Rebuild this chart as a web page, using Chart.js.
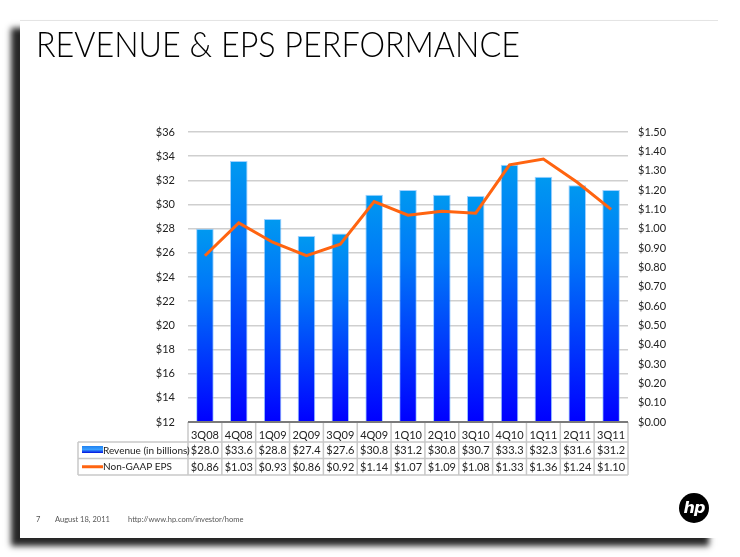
<!DOCTYPE html>
<html><head><meta charset="utf-8">
<script src="https://cdn.jsdelivr.net/npm/chart.js@4.4.1/dist/chart.umd.min.js"></script>
<style>
html,body{margin:0;padding:0;background:#fff;width:740px;height:557px;overflow:hidden;}
#slide{position:absolute;left:20px;top:20px;width:698px;height:517px;background:#fff;box-shadow:-9px 8px 6px rgba(0,0,0,0.85);border-top:1px solid #e4e4e4;}
#chartWrap{position:absolute;left:0;top:0;width:740px;height:557px;}
#title{position:absolute;left:36px;top:26px;font-family:Lato;font-weight:300;font-size:35px;line-height:35px;color:#000;white-space:nowrap;transform-origin:0 0;display:inline-block;}
.foot{position:absolute;top:515px;font-family:Lato;font-size:7.5px;color:#555;white-space:nowrap;}
#logo{position:absolute;left:679px;top:493px;width:30px;height:30px;border-radius:50%;background:#000;color:#fff;font-family:'DejaVu Sans';font-style:italic;font-weight:bold;font-size:16px;line-height:29px;text-align:center;letter-spacing:-1px;}
</style></head>
<body>
<div id="slide"></div>
<div id="chartWrap"><canvas id="c" width="740" height="557"></canvas></div>
<div id="title">REVENUE &amp; EPS PERFORMANCE</div>
<div class="foot" style="left:36px">7</div>
<div class="foot" style="left:55px">August 18, 2011</div>
<div class="foot" style="left:128px">http://www.hp.com/investor/home</div>
<div id="logo">hp</div>
<script>
const categories = ['3Q08','4Q08','1Q09','2Q09','3Q09','4Q09','1Q10','2Q10','3Q10','4Q10','1Q11','2Q11','3Q11'];
const revenue = [28.0,33.6,28.8,27.4,27.6,30.8,31.2,30.8,30.7,33.3,32.3,31.6,31.2];
const eps = [0.86,1.03,0.93,0.86,0.92,1.14,1.07,1.09,1.08,1.33,1.36,1.24,1.10];
const seriesNames = ['Revenue (in billions)','Non-GAAP EPS'];
const revenueAxis = [12,36,2];
const epsAxis = [0,1.5,0.1];

// fit title width
(function(){
  const t=document.getElementById('title');
  const w=t.getBoundingClientRect().width;
  t.style.transform='scaleX('+(484/w)+')';
})();

const FONT='Lato';
const TXT='#222';

function barGradient(ctx){
  const chart=ctx.chart, area=chart.chartArea;
  if(!area || ctx.raw===undefined) return '#0070f8';
  const y=chart.scales.y.getPixelForValue(ctx.raw);
  const g=chart.ctx.createLinearGradient(0,y,0,area.bottom);
  g.addColorStop(0,'#0099f0');
  g.addColorStop(0.3,'#0078f8');
  g.addColorStop(1,'#0000ff');
  return g;
}

const tablePlugin={
  id:'dataTable',
  afterDraw(chart){
    const c=chart.ctx, area=chart.chartArea, xs=chart.scales.x;
    const n=categories.length;
    const centers=categories.map((_,i)=>xs.getPixelForValue(i));
    const half=(centers[1]-centers[0])/2;
    const top=area.bottom, r1=top+20, r2=r1+16.5, r3=r2+16.5;
    const legL=78;
    function ln(x1,y1,x2,y2){c.beginPath();c.moveTo(x1,y1);c.lineTo(x2,y2);c.stroke();}
    c.save();
    c.strokeStyle='#c8c8c8'; c.lineWidth=1.5;
    ln(legL,r1,area.right,r1); ln(legL,r2,area.right,r2); ln(legL,r3,area.right,r3);
    ln(legL,r1,legL,r3);
    for(let i=0;i<=n;i++){const xx=(i<n?centers[i]-half:centers[n-1]+half); ln(xx,top,xx,r3);}
    c.strokeStyle='#7a7a7a'; c.lineWidth=2; ln(area.left,top,area.right,top);
    c.fillStyle=TXT; c.font='11px '+FONT; c.textAlign='center'; c.textBaseline='middle';
    for(let i=0;i<n;i++){
      c.fillText('$'+revenue[i].toFixed(1),centers[i],(r1+r2)/2+0.5);
      c.fillText('$'+eps[i].toFixed(2),centers[i],(r2+r3)/2+0.5);
    }
    // legend
    const sg=c.createLinearGradient(0,r1+4,0,r1+11);
    sg.addColorStop(0,'#2080f0'); sg.addColorStop(0.5,'#3aa0ff'); sg.addColorStop(1,'#0010e0');
    c.fillStyle=sg; c.fillRect(82,r1+4,21,7);
    c.strokeStyle='#ff6410'; c.lineWidth=3; ln(82,(r2+r3)/2,103,(r2+r3)/2);
    c.fillStyle=TXT; c.textAlign='left'; c.font='10px '+FONT;
    c.fillText(seriesNames[0],103,(r1+r2)/2+0.5);
    c.fillText(seriesNames[1],103,(r2+r3)/2+0.5);
    c.restore();
  }
};

new Chart(document.getElementById('c'),{
  data:{
    labels:categories,
    datasets:[
      {type:'line',label:seriesNames[1],data:eps,yAxisID:'y1',borderColor:'#ff6410',borderWidth:3,pointRadius:0,tension:0,order:0},
      {type:'bar',label:seriesNames[0],data:revenue,yAxisID:'y',backgroundColor:barGradient,borderColor:'rgba(120,190,255,0.7)',borderWidth:{left:1,right:1,top:1,bottom:0},barPercentage:0.52,categoryPercentage:1,order:1}
    ]
  },
  options:{
    responsive:false,animation:false,devicePixelRatio:1,
    layout:{padding:{top:132,bottom:0,left:0,right:0}},
    plugins:{legend:{display:false},tooltip:{enabled:false}},
    scales:{
      x:{offset:true,grid:{display:false},border:{display:false},
         ticks:{font:{family:FONT,size:11},color:TXT,padding:-1,maxRotation:0,autoSkip:false},
         afterFit(s){s.height=135;}},
      y:{position:'left',min:revenueAxis[0],max:revenueAxis[1],
         ticks:{stepSize:revenueAxis[2],callback:v=>'$'+v,font:{family:FONT,size:11},color:TXT,padding:13},
         grid:{color:'#cfcfcf',lineWidth:1.5,drawTicks:false},border:{display:false},
         afterFit(s){s.width=188;}},
      y1:{position:'right',min:epsAxis[0],max:epsAxis[1],
         ticks:{stepSize:epsAxis[2],callback:v=>'$'+v.toFixed(2),font:{family:FONT,size:11},color:TXT,padding:10,autoSkip:false},
         grid:{display:false,drawTicks:false},border:{display:false},
         afterFit(s){s.width=112;}}
    }
  },
  plugins:[tablePlugin]
});
</script>
</body></html>
